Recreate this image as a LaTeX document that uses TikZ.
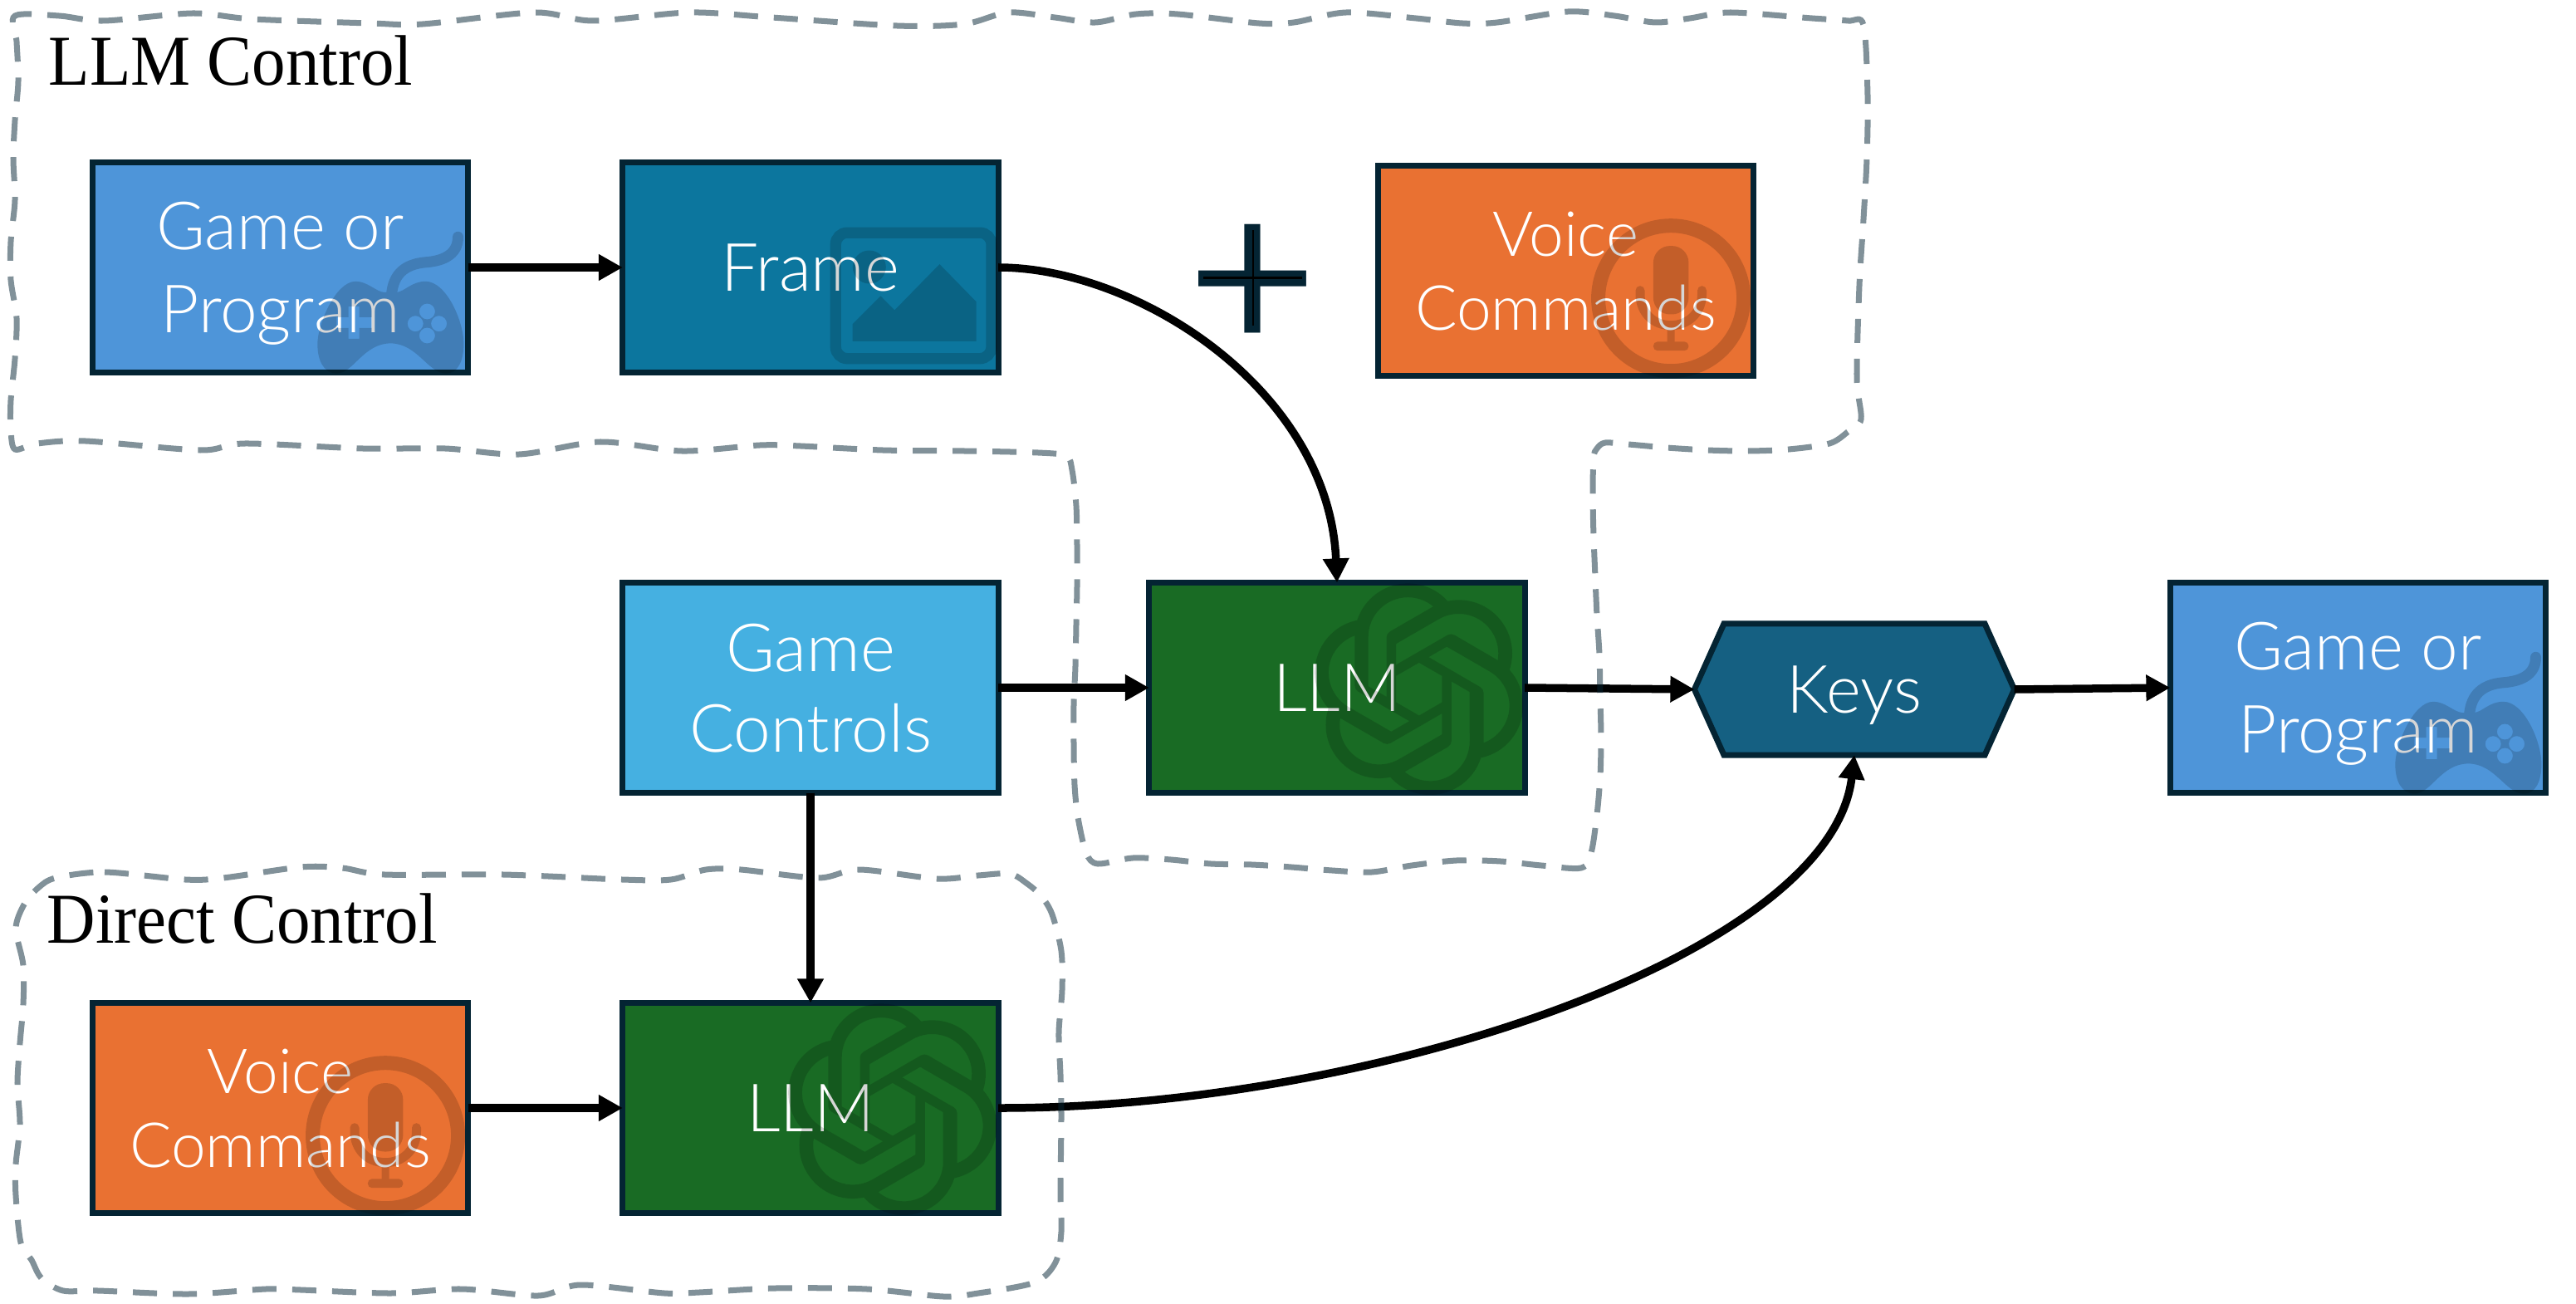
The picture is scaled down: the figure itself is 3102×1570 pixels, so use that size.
\documentclass[tikz,border=0pt]{standalone}
\usepackage{fontspec}
\setmainfont{Liberation Serif}
\newfontfamily\boxfont{Lato Light}
\newfontfamily\titlefont[FakeStretch=0.94]{Liberation Serif}
\newfontfamily\plusfont{Liberation Sans}
\usepackage{tikz}
\usetikzlibrary{arrows.meta,positioning,shapes.symbols,svg.path}
\definecolor{boxline}{HTML}{042433}
\definecolor{gamefill}{HTML}{4E95D9}
\definecolor{framefill}{HTML}{0C769E}
\definecolor{voicefill}{HTML}{E97132}
\definecolor{controlfill}{HTML}{45B0E1}
\definecolor{llmfill}{HTML}{196B24}
\definecolor{keysfill}{HTML}{156082}
\tikzset{
>={Triangle[length=.29cm,width=.30cm]},
  box/.style={
    rectangle,
    draw=boxline, line width=.07cm,
    minimum width=4.52cm,
    minimum height=2.53cm,
    inner sep=0pt, outer sep=0pt,
    text=white, align=center, text depth=0pt,
    font=\boxfont\fontsize{22.8}{28.4}\selectfont},
  gamebox/.style={box, fill=gamefill},
  framebox/.style={box, fill=framefill},
  voicebox/.style={box, fill=voicefill,
    font=\boxfont\fontsize{21.3}{25.4}\selectfont},
  controlbox/.style={box, fill=controlfill,
    font=\boxfont\fontsize{22.8}{27.6}\selectfont},
  llmbox/.style={box, fill=llmfill},
  keysbox/.style={box, fill=keysfill,
    signal, signal to=east and west, signal pointer angle=131.6,
    minimum width=3.85cm, minimum height=1.58cm},
  line/.style={draw=black, line width=.095cm, ->},
  region/.style={draw=boxline, draw opacity=.5, line width=.07cm,
    dash pattern=on .29cm off .19cm},
  title/.style={anchor=base west, inner sep=0pt,
    font=\titlefont\fontsize{24.5}{28}\selectfont},
  icon/.style={transparency group, opacity=.16},
  pics/gamepad/.style={code={
    \begin{scope}[icon]
    \fill[even odd rule] (67.8,127.7) .. controls (52,127) and (44.8,112) .. (44.8,92)
      .. controls (44.8,70) and (66,16.8) .. (90.8,16.8)
      .. controls (105,16.8) and (115,29) .. (125,30) -- (140,30)
      .. controls (150,29) and (158,16.8) .. (175,16.8)
      .. controls (200,16.8) and (220.9,65) .. (220.9,92)
      .. controls (220.9,112) and (214,127.7) .. (199.8,127.7)
      .. controls (178,127.7) and (165,91.4) .. (132.9,91.4)
      .. controls (100,91.4) and (88,127.7) .. (67.8,127.7) -- cycle
      (67.8,60) -- (82,60) -- (82,47) -- (95,47) -- (95,60) -- (110,60) -- (110,73)
      -- (95,73) -- (95,86) -- (82,86) -- (82,73) -- (67.8,73) -- cycle
      (176.9,53) circle (9.5) (176.9,82) circle (9.5)
      (162.7,67.7) circle (9.5) (191.1,67.7) circle (9.5);
    \draw[line width=.13cm, line cap=round] (134,33) .. controls (136,8) and (150,-4) .. (175,-6.2)
      .. controls (200,-8) and (214,-18) .. (214,-36.7);
    \end{scope}
  }},
  pics/picture/.style={code={
    \begin{scope}[icon]
    \draw[line width=.133cm, rounded corners=.14cm] (30.3,-41.8) rectangle (218,109.7);
    \fill (70.8,-.5) circle (20);
    \fill (50.6,89) -- (50.6,68.3) -- (84.4,34.4) -- (101.3,51.4) -- (155.4,-3.9)
      -- (199.5,41.2) -- (199.5,89) -- cycle;
    \end{scope}
  }},
  pics/mic/.style={code={
    \begin{scope}[icon]
    \draw[line width=.17cm] (126.6,33.2) circle (87.5);
    \fill[rounded corners=.2cm] (105.4,-29.9) rectangle (147.9,52.5);
    \draw[line width=.11cm, line cap=round] (89.5,23.7) -- (89.5,28)
      .. controls (89.5,50) and (105,65.7) .. (126.6,65.7)
      .. controls (148,65.7) and (164,50) .. (164,28) -- (164,23.7);
    \draw[line width=.09cm] (126.6,65.7) -- (126.6,88);
    \fill[rounded corners=.05cm] (105.4,85.4) rectangle (147.9,96.2);
    \end{scope}
  }},
  pics/knot/.style={code={
    \fill[opacity=.16, even odd rule, shift={(98.7,1.7)}, xscale=3.016, yscale=-3.016,
      shift={(-12pt,-12pt)}]
      svg {M 22.2819 9.8211 a 5.9847 5.9847 0 0 0 -0.5157 -4.9108 6.0462 6.0462 0 0 0 -6.5098 -2.9
      A 6.0651 6.0651 0 0 0 4.9807 4.1818 a 5.9847 5.9847 0 0 0 -3.9977 2.9 6.0462 6.0462 0 0 0 0.7427 7.0966
      5.98 5.98 0 0 0 0.511 4.9107 6.051 6.051 0 0 0 6.5146 2.9001
      A 5.9847 5.9847 0 0 0 13.2599 24 a 6.0557 6.0557 0 0 0 5.7718 -4.2058 5.9894 5.9894 0 0 0 3.9977 -2.9001
      6.0557 6.0557 0 0 0 -0.7475 -7.0729 z
      M 13.2599 22.4292 a 4.4755 4.4755 0 0 1 -2.8764 -1.0408 l 0.1419 -0.0804 4.7783 -2.7582
      a 0.7948 0.7948 0 0 0 0.3927 -0.6813 v -6.7369 l 2.02 1.1686 a 0.071 0.071 0 0 1 0.038 0.052
      v 5.5826 a 4.504 4.504 0 0 1 -4.4945 4.4944 z
      M 3.5992 18.3038 a 4.4708 4.4708 0 0 1 -0.5346 -3.0137 l 0.142 0.0852 4.783 2.7582
      a 0.7712 0.7712 0 0 0 0.7806 0 l 5.8428 -3.3685 v 2.3324 a 0.0804 0.0804 0 0 1 -0.0332 0.0615
      L 9.74 19.9502 a 4.4992 4.4992 0 0 1 -6.1408 -1.6464 z
      M 2.3408 7.8956 a 4.485 4.485 0 0 1 2.3655 -1.9728 V 11.6 a 0.7664 0.7664 0 0 0 0.3879 0.6765
      l 5.8144 3.3543 -2.0201 1.1685 a 0.0757 0.0757 0 0 1 -0.071 0 l -4.8303 -2.7865
      A 4.504 4.504 0 0 1 2.3408 7.872 z
      M 18.9371 11.7514 L 13.1038 8.364 15.1192 7.2 a 0.0757 0.0757 0 0 1 0.071 0 l 4.8303 2.7913
      a 4.4944 4.4944 0 0 1 -0.6765 8.1042 v -5.6772 a 0.79 0.79 0 0 0 -0.407 -0.667 z
      M 20.9478 8.7283 l -0.142 -0.0852 -4.7735 -2.7818 a 0.7759 0.7759 0 0 0 -0.7854 0
      L 9.409 9.2297 V 6.8974 a 0.0662 0.0662 0 0 1 0.0284 -0.0615 l 4.8303 -2.7866
      a 4.4992 4.4992 0 0 1 6.6802 4.66 z
      M 8.3065 12.863 l -2.02 -1.1638 a 0.0804 0.0804 0 0 1 -0.038 -0.0567 V 6.0742
      a 4.4992 4.4992 0 0 1 7.3757 -3.4537 l -0.142 0.0805 L 8.704 5.459
      a 0.7948 0.7948 0 0 0 -0.3927 0.6813 z
      M 9.4041 10.4976 l 2.602 -1.4998 2.6069 1.4998 v 2.9994 l -2.5974 1.4997 -2.6067 -1.4997 z};
  }},
}
\begin{document}
\begin{tikzpicture}[x=.01cm, y=-.01cm]
    \useasboundingbox (0,0) rectangle (3102,1570);

    %boxes
    \node (game1) [gamebox] at (337.5,322) {Game or\\Program};
    \node (frame) [framebox] at (976,322) {Frame};
    \node (voice1) [voicebox] at (1885.5,326) {Voice\\Commands};
    \node (controls) [controlbox] at (976,828) {Game\\Controls};
    \node (llm1) [llmbox] at (1610,828) {LLM};
    \node (keys) [keysbox] at (2233,830) {Keys};
    \node (game2) [gamebox] at (2839.5,828) {Game or\\Program};
    \node (voice2) [voicebox] at (337.5,1334) {Voice\\Commands};
    \node (llm2) [llmbox] at (976,1334) {LLM};

    %icons
    \pic at (game1.center) {gamepad};
    \pic at (game2.center) {gamepad};
    \pic at (frame.center) {picture};
    \pic at (voice1.center) {mic};
    \pic at (voice2.center) {mic};
    \pic at (llm1.center) {knot};
    \pic at (llm2.center) {knot};

    %plus sign
    \node (plus) [inner sep=0pt, text=boxline, font=\plusfont\fontsize{76}{76}\selectfont] at (1509,347.5) {+};
    \draw[black, line width=.025cm] (plus.center) ++(-60,-13) -- ++(119,0);
    \draw[black, line width=.025cm] (plus.center) ++(0,-70) -- ++(0,115);

    %arrows
    \draw[line] (game1) -- (frame);
    \draw[line] (frame.east) .. controls (1370,322) and (1600,470) .. (llm1.north);
    \draw[line] (controls) -- (llm1);
    \draw[line] (controls) -- (llm2);
    \draw[line] (llm1.east) -- (keys.west);
    \draw[line] (keys.east) -- (game2.west);
    \draw[line] (voice2) -- (llm2);
    \draw[line] (llm2.east) .. controls (1650,1335) and (2205,1150) .. (keys.south);

    %regions
    \draw[region] plot[smooth cycle] coordinates {(18,19) (71,19) (125,25) (232,16) (304,23) (446,28) (509,29) (643,15) (714,25) (830,15) (929,21) (1080,31) (1161,29) (1214,15) (1270,21) (1319,27) (1368,17) (1418,17) (1516,28) (1558,27) (1621,15) (1705,22) (1761,28) (1803,27) (1888,14) (1944,19) (1993,27) (2035,22) (2084,15) (2182,22) (2225,25) (2244,30)
      (2249,115) (2248,191) (2244,264) (2239,344) (2236,455) (2241,505) (2225,520) (2203,534) (2154,541) (2105,543) (2056,542) (2007,539) (1961,535) (1933,533) (1923,540) (1919,551) (1918,595) (1919,645) (1921,695) (1923,741) (1926,788) (1927,841) (1928,888) (1927,934) (1923,981) (1916,1027) (1904,1045)
      (1856,1042) (1807,1037) (1754,1036) (1700,1042) (1652,1050) (1604,1048) (1555,1044) (1507,1041) (1458,1040) (1410,1035) (1364,1033) (1322,1040) (1308,1027) (1298,984) (1294,945) (1293,895) (1293,849) (1295,802) (1296,752) (1297,706) (1297,657) (1296,609) (1291,566) (1284,549)
      (1250,545) (1161,543) (1063,542) (964,537) (915,536) (821,543) (723,532) (625,547) (536,540) (437,540) (295,534) (241,542) (103,531) (45,534) (18,541) (13,517) (13,482) (18,432) (20,383) (13,337) (13,291) (18,241) (16,191) (18,145) (22,98) (20,50)};
    \draw[region] plot[smooth cycle] coordinates {(67,1057) (126,1050) (223,1059) (269,1057) (362,1044) (412,1045) (463,1053) (606,1053) (749,1059) (808,1059) (850,1047) (892,1047) (985,1057) (1035,1047) (1128,1058) (1178,1054) (1216,1052) (1237,1064) (1254,1079) (1267,1101) (1278,1145) (1279,1192) (1275,1243) (1277,1294) (1278,1344) (1277,1436) (1278,1483) (1271,1520) (1246,1544) (1178,1557) (1136,1561) (1044,1552) (934,1551) (842,1556) (800,1557) (699,1547) (648,1560) (556,1552) (471,1557) (362,1553) (320,1552) (227,1558) (118,1554) (76,1554) (50,1539) (38,1517) (25,1496) (19,1439) (19,1402) (24,1354) (21,1304) (24,1256) (28,1209) (28,1162) (19,1118) (29,1089) (46,1069)};

    %region names
    \node (llmtitle) [title] at (58,103) {LLM Control};
    \node (directtitle) [title] at (56,1135) {Direct Control};

\end{tikzpicture}
\end{document}
